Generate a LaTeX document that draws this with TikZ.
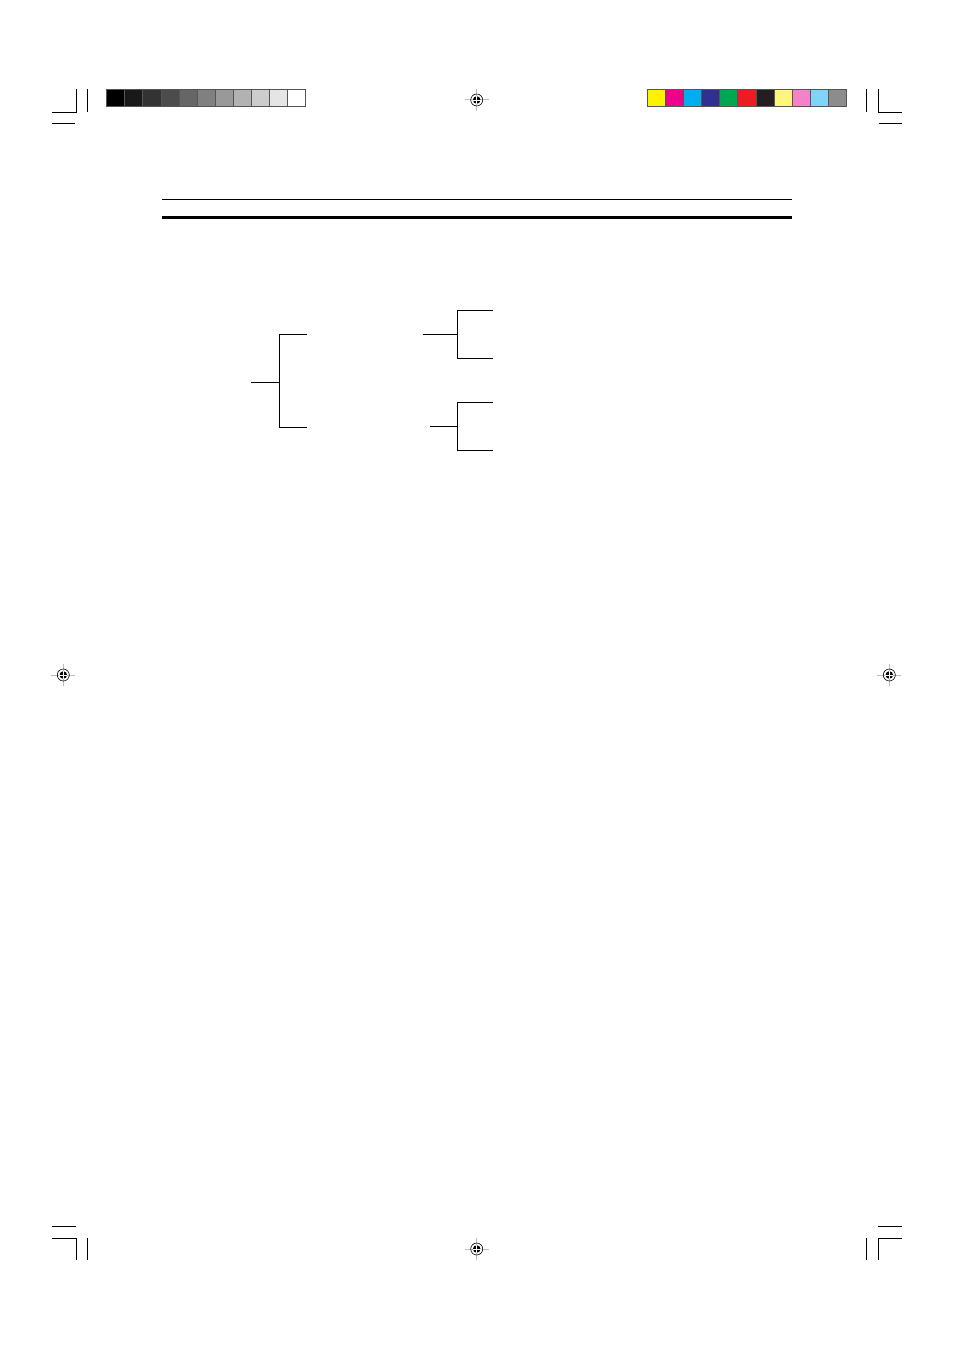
\documentclass[tikz,border=0pt]{standalone}
\usepackage{xcolor}
\usetikzlibrary{positioning, calc}
\definecolor{patchedge}{RGB}{85, 85, 85}
\definecolor{regcross}{RGB}{190, 190, 190}
\definecolor{pyellow}{RGB}{255, 242, 0}
\definecolor{pmagenta}{RGB}{236, 0, 140}
\definecolor{pcyan}{RGB}{0, 174, 239}
\definecolor{pblue}{RGB}{46, 49, 146}
\definecolor{pgreen}{RGB}{0, 166, 81}
\definecolor{pred}{RGB}{237, 28, 36}
\definecolor{pblack}{RGB}{35, 31, 32}
\definecolor{plyellow}{RGB}{255, 245, 122}
\definecolor{ppink}{RGB}{245, 130, 200}
\definecolor{plcyan}{RGB}{125, 213, 247}
\definecolor{pgray}{RGB}{140, 140, 140}

\begin{document}
\begin{tikzpicture}[x=1pt, y=-1pt,
    crop/.style={line width=1pt},
    thinrule/.style={line width=1.1pt},
    thickrule/.style={line width=3.4pt},
    bracket/.style={line width=1.3pt},
    patch/.style={draw=patchedge, line width=1pt},
    regmark/.pic={
        \draw[regcross, line width=1pt] (-12,0) -- (12,0) (0,-11) -- (0,11);
        \draw[line width=0.6pt] (0,0) circle (6);
        \fill (0,0) circle (3.8);
        \draw[white, line width=0.9pt] (-4,0) -- (4,0) (0,-4) -- (0,4);
    }]
    \useasboundingbox[fill=white] (0,0) rectangle (954,1351);

    % Crop marks
    \draw[crop] (52.3,112.3) -- (76,112.3) -- (76,89.3);
    \draw[crop] (87.3,89.3) -- (87.3,112.3);
    \draw[crop] (52.3,124) -- (75,124);
    \draw[crop] (866.7,89.3) -- (866.7,112.3);
    \draw[crop] (878.7,89.3) -- (878.7,112.3) -- (901.7,112.3);
    \draw[crop] (878.7,124) -- (901.7,124);
    \draw[crop] (52.3,1226.3) -- (75.7,1226.3);
    \draw[crop] (52.3,1238.3) -- (76.3,1238.3) -- (76.3,1260.3);
    \draw[crop] (87.7,1238.3) -- (87.7,1260.3);
    \draw[crop] (878.3,1226.3) -- (901.7,1226.3);
    \draw[crop] (901.7,1238.3) -- (878.7,1238.3) -- (878.7,1260.3);
    \draw[crop] (866.7,1238.3) -- (866.7,1260.3);

    % Registration marks
    \pic at (476.7,100) {regmark};
    \pic at (63.3,675) {regmark};
    \pic at (889.3,675) {regmark};
    \pic at (476.7,1249) {regmark};

    % Gray scale patches
    \foreach \i in {0,...,10} {
        \pgfmathtruncatemacro\lev{100-10*\i}
        \filldraw[patch, fill=black!\lev] ({106.7+18.1*\i},89.3) rectangle ++(18.1,17.4);
    }

    % Colour patches
    \foreach \c [count=\i from 0] in {pyellow, pmagenta, pcyan, pblue, pgreen, pred, pblack, plyellow, ppink, plcyan, pgray} {
        \filldraw[patch, fill=\c] ({647.3+18.13*\i},89.3) rectangle ++(18.13,17.4);
    }

    % Header rules
    \coordinate (ruleL) at (162,199.3);
    \coordinate (ruleR) at (791.5,199.3);
    \draw[thinrule] (ruleL) -- (ruleR);
    \coordinate (boldL) at (162,217.3);
    \coordinate (boldR) at (791.5,217.3);
    \draw[thickrule] (boldL) -- (boldR);

    % Left bracket
    \coordinate (root) at (251,382.3);
    \coordinate (rootfork) at (279.3,382.3);
    \coordinate (upper) at (306.7,334.3);
    \coordinate (lower) at (306.7,427.3);
    \draw[bracket] (root) -- (rootfork);
    \draw[bracket] (upper) -| (rootfork) |- (lower);

    % Right brackets
    \coordinate (upperin) at (423,334.3);
    \coordinate (upperfork) at (457.3,334.3);
    \coordinate (upperA) at (492.7,310.3);
    \coordinate (upperB) at (492.7,358.3);
    \draw[bracket] (upperin) -- (upperfork);
    \draw[bracket] (upperA) -| (upperfork) |- (upperB);

    \coordinate (lowerin) at (430,426.3);
    \coordinate (lowerfork) at (457.3,426.3);
    \coordinate (lowerA) at (492.7,402.3);
    \coordinate (lowerB) at (492.7,450.3);
    \draw[bracket] (lowerin) -- (lowerfork);
    \draw[bracket] (lowerA) -| (lowerfork) |- (lowerB);
\end{tikzpicture}
\end{document}
